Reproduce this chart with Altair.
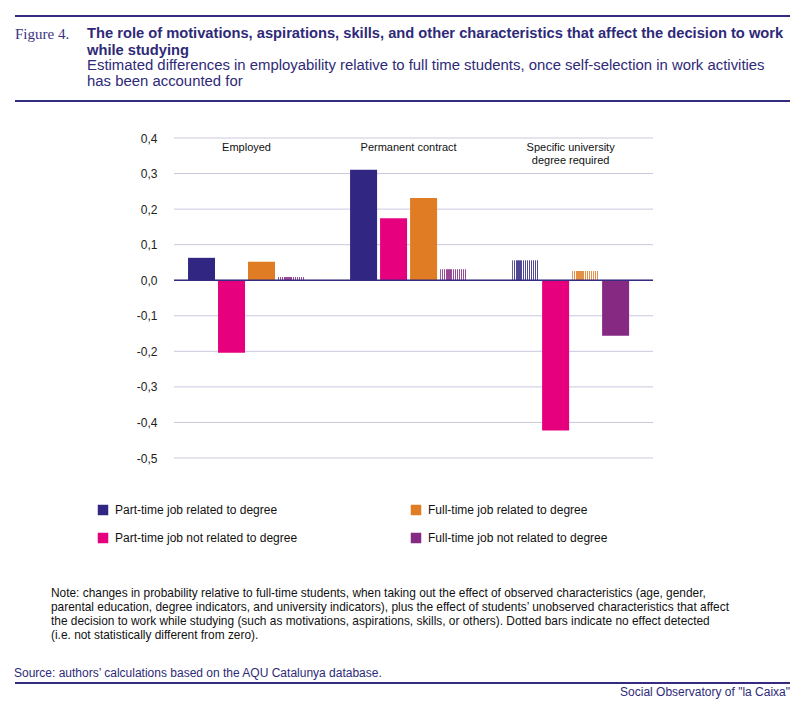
import altair as alt
import pandas as pd

# ---------------- data ----------------
categories = ["Employed", "Permanent contract", "Specific university degree required"]
category_labels = ["Employed", "Permanent contract", "Specific university\ndegree required"]
series = [
    "Part-time job related to degree",
    "Part-time job not related to degree",
    "Full-time job related to degree",
    "Full-time job not related to degree",
]
series_colors = ["#312783", "#e6007e", "#e07c24", "#862982"]

employed_values = [0.063, -0.204, 0.052, 0.009]
permanent_values = [0.311, 0.174, 0.231, 0.031]
specific_values = [0.056, -0.423, 0.026, -0.156]

employed_significant = [True, True, True, False]
permanent_significant = [True, True, True, False]
specific_significant = [False, True, False, True]

y_ticks = [0.4, 0.3, 0.2, 0.1, 0.0, -0.1, -0.2, -0.3, -0.4, -0.5]

title_text = ("The role of motivations, aspirations, skills, and other characteristics that affect the decision to work\n"
              "while studying")
subtitle_text = ("Estimated differences in employability relative to full time students, once self-selection in work activities\n"
                 "has been accounted for")
note_text = ("Note: changes in probability relative to full-time students, when taking out the effect of observed characteristics (age, gender,\n"
             "parental education, degree indicators, and university indicators), plus the effect of students\u2019 unobserved characteristics that affect\n"
             "the decision to work while studying (such as motivations, aspirations, skills, or others). Dotted bars indicate no effect detected\n"
             "(i.e. not statistically different from zero).")
source_text = "Source: authors\u2019 calculations based on the AQU Catalunya database."
footer_text = "Social Observatory of \"la Caixa\""

# ---------------- tables ----------------
rows = []
for cat, vals, sig in [
    (categories[0], employed_values, employed_significant),
    (categories[1], permanent_values, permanent_significant),
    (categories[2], specific_values, specific_significant),
]:
    for s, v, g in zip(series, vals, sig):
        rows.append({"category": cat, "series": s, "value": v, "significant": g})
df = pd.DataFrame(rows)
cat_df = pd.DataFrame({"category": categories, "label": category_labels})
tick_df = pd.DataFrame({"value": y_ticks})
one = pd.DataFrame({"k": [0]})

FONT = "Liberation Sans, Arial, sans-serif"
NAVY = "#2e2a78"
LINE = "#332c80"
GRID = "#cbc8de"

x_enc = alt.X("category:N", sort=categories, axis=None,
              scale=alt.Scale(domain=categories, paddingInner=0.278, paddingOuter=0.117, align=0.37))
xoff_enc = alt.XOffset("series:N", sort=series,
                       scale=alt.Scale(domain=series, paddingInner=0.1, paddingOuter=0))
y_scale = alt.Scale(domain=[-0.5, 0.4], nice=False, zero=False)
y_axis = alt.Axis(values=y_ticks, tickCount=len(y_ticks), title=None, grid=False,
                  domain=False, ticks=False, labelPadding=17, labelFont=FONT,
                  labelFontSize=12, labelColor="#222222", labelOverlap=False,
                  labelBound=False, labelFlush=False,
                  labelExpr="replace(replace(format(datum.value, '.1f'), '.', ','), '\u2212', '-')")
y_enc = alt.Y("value:Q", scale=y_scale, axis=y_axis)

grid = alt.Chart(tick_df).mark_rule(color=GRID, strokeWidth=1).encode(y=y_enc)

base = alt.Chart(df)

solid = base.transform_filter("datum.significant").mark_bar().encode(
    x=x_enc, xOffset=xoff_enc, y=y_enc,
    color=alt.Color("series:N",
                    scale=alt.Scale(domain=series, range=series_colors),
                    legend=alt.Legend(title=None, orient="none", legendX=-77, legendY=366,
                                      columns=2, symbolType="square", symbolSize=110,
                                      symbolStrokeWidth=0, symbolOffset=0, labelOffset=6,
                                      labelFont=FONT, labelFontSize=12, labelColor="#111111",
                                      columnPadding=112, rowPadding=16, labelLimit=300)),
)


def stripes(color, n=13):
    stops = []
    for i in range(n):
        a = i / n
        b = (i + 0.6) / n
        c = (i + 1) / n
        stops += [{"offset": a, "color": color}, {"offset": b, "color": color},
                  {"offset": b, "color": "#ffffff"}, {"offset": c, "color": "#ffffff"}]
    return {"gradient": "linear", "x1": 0, "y1": 0, "x2": 1, "y2": 0, "stops": stops}


dotted_layers = []
for s, col in zip(series, series_colors):
    if df[(df.series == s) & (~df.significant)].empty:
        continue
    dotted_layers.append(
        base.transform_filter(f"!datum.significant && datum.series == '{s}'")
        .mark_bar(fill=stripes(col), opacity=0.85)
        .encode(x=x_enc, xOffset=xoff_enc, y=y_enc)
    )

zero_rule = alt.Chart(one).mark_rule(color=LINE, strokeWidth=1.5).encode(
    y=alt.datum(0, scale=y_scale))

cat_text = alt.Chart(cat_df).mark_text(
    baseline="top", align="center", dy=4, fontSize=11, lineHeight=13, lineBreak="\n",
    font=FONT, color="#111111"
).encode(x=x_enc, y=alt.datum(0.4), text="label:N")


def hrule(ypix):
    return alt.Chart(one).mark_rule(color=LINE, strokeWidth=2).encode(
        x=alt.value(-159), x2=alt.value(616), y=alt.value(ypix))


def label(text, xpix, ypix, **kw):
    return alt.Chart(one).mark_text(lineBreak="\n", baseline="middle", **kw).encode(
        x=alt.value(xpix), y=alt.value(ypix), text=alt.value(text))


fig_label = label("Figure 4.", -159, -104, align="left", font="Liberation Serif, DejaVu Serif, serif",
                  fontSize=15, color="#3a3482")
title = label(title_text, -87, -104, align="left", font=FONT, fontSize=14.7, fontWeight="bold",
              color=NAVY, lineHeight=17)
subtitle = label(subtitle_text, -87, -72, align="left", font=FONT, fontSize=14.9, color=NAVY,
                 lineHeight=16)
note = label(note_text, -123, 455, align="left", font=FONT, fontSize=11.9, color="#111111",
             lineHeight=14)
source = label(source_text, -160, 535, align="left", font=FONT, fontSize=12, color=NAVY)
footer = label(footer_text, 616, 554, align="right", font=FONT, fontSize=12, color=NAVY)

chart = alt.layer(
    grid, solid, *dotted_layers, zero_rule, cat_text,
    hrule(-122), hrule(-37), hrule(545),
    fig_label, title, subtitle, note, source, footer,
).properties(
    width=479, height=320,
    padding={"left": 166, "top": 130, "right": 139, "bottom": 243},
    autosize=alt.AutoSizeParams(type="none"),
).configure_view(stroke=None)

chart.save("out.html", embed_options={"renderer": "svg", "actions": False})
